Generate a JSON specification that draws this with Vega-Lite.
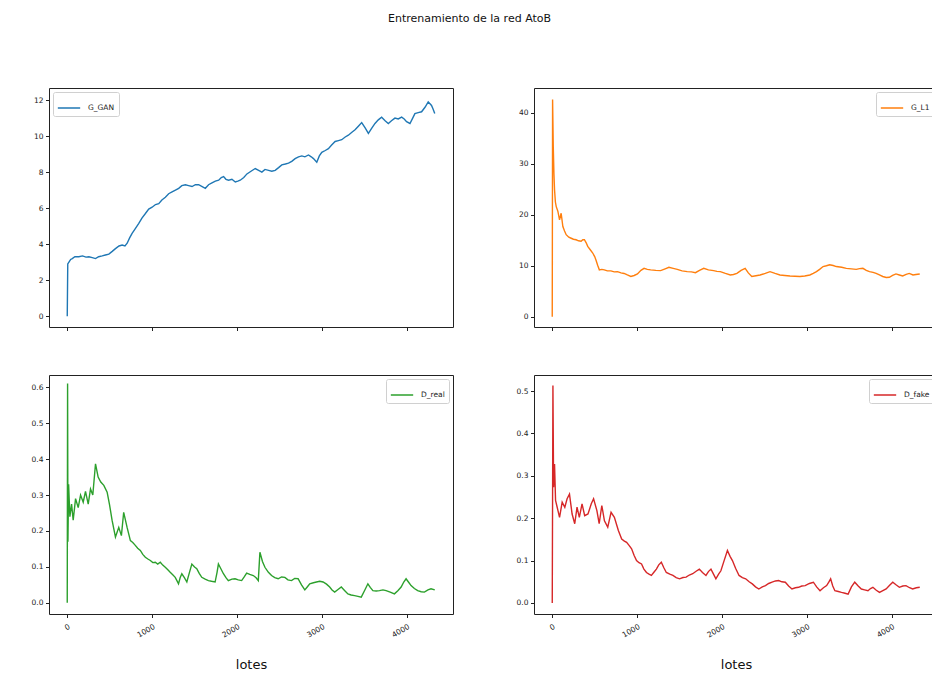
{
  "$schema": "https://vega.github.io/schema/vega-lite/v6.json",
  "padding": {"left": 30, "top": 12, "right": 0, "bottom": 0},
  "title": {"text": "Entrenamiento de la red AtoB", "fontSize": 11, "fontWeight": "normal", "color": "#111", "offset": 64, "dx": -15, "anchor": "middle"},
  "datasets": {
    "G_GAN": [
      {"lote":0,"valor":0},{"lote":6,"valor":2.9},{"lote":20,"valor":3.0},{"lote":40,"valor":3.15},{"lote":59,"valor":3.2},{"lote":90,"valor":3.3},{"lote":137,"valor":3.3},{"lote":180,"valor":3.35},{"lote":220,"valor":3.28},{"lote":255,"valor":3.3},{"lote":295,"valor":3.25},{"lote":333,"valor":3.2},{"lote":370,"valor":3.3},{"lote":412,"valor":3.35},{"lote":450,"valor":3.4},{"lote":490,"valor":3.45},{"lote":530,"valor":3.6},{"lote":568,"valor":3.75},{"lote":610,"valor":3.9},{"lote":647,"valor":3.95},{"lote":680,"valor":3.9},{"lote":706,"valor":4.05},{"lote":735,"valor":4.35},{"lote":764,"valor":4.6},{"lote":800,"valor":4.85},{"lote":843,"valor":5.15},{"lote":880,"valor":5.45},{"lote":921,"valor":5.7},{"lote":960,"valor":5.95},{"lote":1000,"valor":6.05},{"lote":1040,"valor":6.2},{"lote":1078,"valor":6.25},{"lote":1115,"valor":6.45},{"lote":1156,"valor":6.6},{"lote":1195,"valor":6.8},{"lote":1235,"valor":6.9},{"lote":1275,"valor":7.0},{"lote":1313,"valor":7.1},{"lote":1350,"valor":7.25},{"lote":1392,"valor":7.3},{"lote":1430,"valor":7.25},{"lote":1470,"valor":7.2},{"lote":1510,"valor":7.3},{"lote":1548,"valor":7.3},{"lote":1590,"valor":7.2},{"lote":1627,"valor":7.1},{"lote":1665,"valor":7.3},{"lote":1705,"valor":7.4},{"lote":1745,"valor":7.5},{"lote":1784,"valor":7.55},{"lote":1815,"valor":7.7},{"lote":1842,"valor":7.75},{"lote":1870,"valor":7.6},{"lote":1901,"valor":7.55},{"lote":1940,"valor":7.6},{"lote":1980,"valor":7.45},{"lote":2010,"valor":7.5},{"lote":2038,"valor":7.55},{"lote":2080,"valor":7.7},{"lote":2117,"valor":7.9},{"lote":2165,"valor":8.05},{"lote":2215,"valor":8.2},{"lote":2255,"valor":8.1},{"lote":2293,"valor":8.0},{"lote":2330,"valor":8.15},{"lote":2372,"valor":8.1},{"lote":2410,"valor":8.05},{"lote":2450,"valor":8.1},{"lote":2490,"valor":8.25},{"lote":2528,"valor":8.4},{"lote":2570,"valor":8.45},{"lote":2607,"valor":8.5},{"lote":2645,"valor":8.6},{"lote":2685,"valor":8.75},{"lote":2725,"valor":8.85},{"lote":2764,"valor":8.9},{"lote":2800,"valor":8.85},{"lote":2842,"valor":8.95},{"lote":2875,"valor":8.85},{"lote":2901,"valor":8.75},{"lote":2940,"valor":8.55},{"lote":2970,"valor":8.9},{"lote":2999,"valor":9.1},{"lote":3040,"valor":9.2},{"lote":3077,"valor":9.3},{"lote":3115,"valor":9.5},{"lote":3156,"valor":9.7},{"lote":3195,"valor":9.75},{"lote":3234,"valor":9.8},{"lote":3275,"valor":9.95},{"lote":3312,"valor":10.05},{"lote":3350,"valor":10.2},{"lote":3391,"valor":10.35},{"lote":3430,"valor":10.55},{"lote":3469,"valor":10.75},{"lote":3510,"valor":10.45},{"lote":3548,"valor":10.15},{"lote":3590,"valor":10.45},{"lote":3626,"valor":10.7},{"lote":3665,"valor":10.9},{"lote":3704,"valor":11.05},{"lote":3745,"valor":10.85},{"lote":3783,"valor":10.7},{"lote":3820,"valor":10.85},{"lote":3861,"valor":11.0},{"lote":3900,"valor":10.95},{"lote":3940,"valor":11.05},{"lote":3970,"valor":10.95},{"lote":3998,"valor":10.8},{"lote":4038,"valor":10.7},{"lote":4070,"valor":11.0},{"lote":4096,"valor":11.25},{"lote":4135,"valor":11.3},{"lote":4175,"valor":11.35},{"lote":4215,"valor":11.6},{"lote":4253,"valor":11.9},{"lote":4292,"valor":11.7},{"lote":4310,"valor":11.5},{"lote":4330,"valor":11.25}
    ],
    "G_L1": [
      {"lote":0,"valor":0},{"lote":4,"valor":42.6},{"lote":12,"valor":33.4},{"lote":20,"valor":28},{"lote":27,"valor":24.9},{"lote":37,"valor":22.5},{"lote":47,"valor":21.6},{"lote":66,"valor":20.7},{"lote":86,"valor":19.0},{"lote":105,"valor":20.3},{"lote":125,"valor":17.7},{"lote":145,"valor":16.8},{"lote":164,"valor":16.1},{"lote":195,"valor":15.6},{"lote":223,"valor":15.4},{"lote":250,"valor":15.2},{"lote":281,"valor":15.1},{"lote":310,"valor":14.9},{"lote":340,"valor":14.8},{"lote":360,"valor":15.1},{"lote":379,"valor":15.1},{"lote":400,"valor":14.5},{"lote":418,"valor":13.8},{"lote":450,"valor":13.1},{"lote":477,"valor":12.5},{"lote":500,"valor":11.8},{"lote":516,"valor":11.1},{"lote":535,"valor":10.1},{"lote":555,"valor":9.2},{"lote":585,"valor":9.3},{"lote":613,"valor":9.2},{"lote":650,"valor":9.0},{"lote":691,"valor":9.0},{"lote":730,"valor":8.8},{"lote":769,"valor":8.85},{"lote":810,"valor":8.6},{"lote":847,"valor":8.5},{"lote":885,"valor":8.2},{"lote":926,"valor":7.9},{"lote":965,"valor":8.1},{"lote":1004,"valor":8.4},{"lote":1045,"valor":9.1},{"lote":1082,"valor":9.5},{"lote":1120,"valor":9.3},{"lote":1160,"valor":9.2},{"lote":1220,"valor":9.1},{"lote":1277,"valor":9.05},{"lote":1330,"valor":9.4},{"lote":1375,"valor":9.7},{"lote":1425,"valor":9.5},{"lote":1473,"valor":9.3},{"lote":1530,"valor":9.0},{"lote":1590,"valor":8.85},{"lote":1640,"valor":8.8},{"lote":1687,"valor":8.65},{"lote":1735,"valor":9.1},{"lote":1785,"valor":9.5},{"lote":1840,"valor":9.2},{"lote":1902,"valor":9.05},{"lote":1940,"valor":8.9},{"lote":1980,"valor":8.85},{"lote":2040,"valor":8.5},{"lote":2098,"valor":8.2},{"lote":2135,"valor":8.3},{"lote":2176,"valor":8.5},{"lote":2225,"valor":9.1},{"lote":2273,"valor":9.5},{"lote":2310,"valor":8.6},{"lote":2351,"valor":7.9},{"lote":2400,"valor":8.05},{"lote":2449,"valor":8.2},{"lote":2510,"valor":8.5},{"lote":2566,"valor":8.85},{"lote":2625,"valor":8.5},{"lote":2683,"valor":8.2},{"lote":2740,"valor":8.1},{"lote":2801,"valor":8.0},{"lote":2860,"valor":7.95},{"lote":2918,"valor":7.9},{"lote":2975,"valor":8.0},{"lote":3035,"valor":8.2},{"lote":3075,"valor":8.5},{"lote":3113,"valor":8.85},{"lote":3150,"valor":9.3},{"lote":3191,"valor":9.85},{"lote":3230,"valor":10.0},{"lote":3269,"valor":10.2},{"lote":3310,"valor":10.05},{"lote":3347,"valor":9.85},{"lote":3410,"valor":9.7},{"lote":3465,"valor":9.5},{"lote":3525,"valor":9.4},{"lote":3582,"valor":9.3},{"lote":3620,"valor":9.45},{"lote":3660,"valor":9.5},{"lote":3700,"valor":9.1},{"lote":3738,"valor":8.85},{"lote":3780,"valor":8.7},{"lote":3816,"valor":8.5},{"lote":3855,"valor":8.2},{"lote":3894,"valor":7.9},{"lote":3935,"valor":7.7},{"lote":3972,"valor":7.75},{"lote":4010,"valor":8.1},{"lote":4050,"valor":8.4},{"lote":4090,"valor":8.2},{"lote":4129,"valor":8.0},{"lote":4170,"valor":8.3},{"lote":4207,"valor":8.5},{"lote":4250,"valor":8.2},{"lote":4285,"valor":8.3},{"lote":4330,"valor":8.4}
    ],
    "D_real": [
      {"lote":0,"valor":0},{"lote":4,"valor":0.61},{"lote":8,"valor":0.17},{"lote":16,"valor":0.33},{"lote":31,"valor":0.24},{"lote":51,"valor":0.275},{"lote":70,"valor":0.23},{"lote":98,"valor":0.29},{"lote":129,"valor":0.265},{"lote":157,"valor":0.3},{"lote":188,"valor":0.28},{"lote":215,"valor":0.31},{"lote":247,"valor":0.275},{"lote":274,"valor":0.317},{"lote":301,"valor":0.3},{"lote":333,"valor":0.387},{"lote":364,"valor":0.35},{"lote":395,"valor":0.336},{"lote":431,"valor":0.327},{"lote":470,"valor":0.308},{"lote":497,"valor":0.275},{"lote":528,"valor":0.23},{"lote":568,"valor":0.183},{"lote":607,"valor":0.21},{"lote":638,"valor":0.187},{"lote":665,"valor":0.252},{"lote":705,"valor":0.21},{"lote":744,"valor":0.173},{"lote":772,"valor":0.168},{"lote":802,"valor":0.16},{"lote":830,"valor":0.152},{"lote":861,"valor":0.146},{"lote":890,"valor":0.135},{"lote":920,"valor":0.127},{"lote":950,"valor":0.122},{"lote":979,"valor":0.118},{"lote":1008,"valor":0.112},{"lote":1037,"valor":0.113},{"lote":1066,"valor":0.108},{"lote":1096,"valor":0.113},{"lote":1125,"valor":0.105},{"lote":1155,"valor":0.099},{"lote":1185,"valor":0.092},{"lote":1213,"valor":0.085},{"lote":1243,"valor":0.078},{"lote":1272,"valor":0.071},{"lote":1292,"valor":0.062},{"lote":1311,"valor":0.053},{"lote":1330,"valor":0.07},{"lote":1350,"valor":0.081},{"lote":1380,"valor":0.07},{"lote":1409,"valor":0.058},{"lote":1440,"valor":0.085},{"lote":1468,"valor":0.108},{"lote":1500,"valor":0.1},{"lote":1526,"valor":0.095},{"lote":1555,"valor":0.082},{"lote":1585,"valor":0.071},{"lote":1625,"valor":0.066},{"lote":1663,"valor":0.062},{"lote":1700,"valor":0.06},{"lote":1742,"valor":0.058},{"lote":1765,"valor":0.085},{"lote":1781,"valor":0.108},{"lote":1810,"valor":0.095},{"lote":1840,"valor":0.081},{"lote":1870,"valor":0.07},{"lote":1898,"valor":0.062},{"lote":1940,"valor":0.066},{"lote":1977,"valor":0.067},{"lote":2015,"valor":0.064},{"lote":2055,"valor":0.062},{"lote":2085,"valor":0.072},{"lote":2114,"valor":0.083},{"lote":2150,"valor":0.079},{"lote":2192,"valor":0.076},{"lote":2225,"valor":0.07},{"lote":2251,"valor":0.062},{"lote":2270,"valor":0.141},{"lote":2300,"valor":0.115},{"lote":2329,"valor":0.099},{"lote":2370,"valor":0.085},{"lote":2407,"valor":0.076},{"lote":2445,"valor":0.07},{"lote":2485,"valor":0.067},{"lote":2525,"valor":0.072},{"lote":2564,"valor":0.071},{"lote":2600,"valor":0.064},{"lote":2642,"valor":0.062},{"lote":2680,"valor":0.068},{"lote":2720,"valor":0.067},{"lote":2760,"valor":0.05},{"lote":2799,"valor":0.036},{"lote":2830,"valor":0.045},{"lote":2857,"valor":0.053},{"lote":2900,"valor":0.056},{"lote":2936,"valor":0.058},{"lote":2975,"valor":0.06},{"lote":3014,"valor":0.058},{"lote":3055,"valor":0.052},{"lote":3092,"valor":0.044},{"lote":3120,"valor":0.036},{"lote":3151,"valor":0.03},{"lote":3190,"valor":0.037},{"lote":3229,"valor":0.044},{"lote":3270,"valor":0.034},{"lote":3307,"valor":0.025},{"lote":3345,"valor":0.022},{"lote":3386,"valor":0.02},{"lote":3425,"valor":0.018},{"lote":3464,"valor":0.016},{"lote":3505,"valor":0.035},{"lote":3542,"valor":0.053},{"lote":3570,"valor":0.043},{"lote":3601,"valor":0.034},{"lote":3640,"valor":0.033},{"lote":3679,"valor":0.034},{"lote":3720,"valor":0.036},{"lote":3757,"valor":0.034},{"lote":3805,"valor":0.03},{"lote":3855,"valor":0.025},{"lote":3895,"valor":0.034},{"lote":3934,"valor":0.044},{"lote":3965,"valor":0.058},{"lote":3992,"valor":0.067},{"lote":4020,"valor":0.058},{"lote":4051,"valor":0.048},{"lote":4090,"valor":0.04},{"lote":4129,"valor":0.034},{"lote":4170,"valor":0.031},{"lote":4208,"valor":0.03},{"lote":4250,"valor":0.036},{"lote":4286,"valor":0.039},{"lote":4330,"valor":0.036}
    ],
    "D_fake": [
      {"lote":0,"valor":0},{"lote":8,"valor":0.513},{"lote":16,"valor":0.273},{"lote":27,"valor":0.328},{"lote":39,"valor":0.242},{"lote":58,"valor":0.226},{"lote":86,"valor":0.202},{"lote":117,"valor":0.238},{"lote":148,"valor":0.226},{"lote":175,"valor":0.246},{"lote":203,"valor":0.257},{"lote":234,"valor":0.21},{"lote":265,"valor":0.187},{"lote":292,"valor":0.226},{"lote":319,"valor":0.202},{"lote":351,"valor":0.234},{"lote":382,"valor":0.206},{"lote":421,"valor":0.21},{"lote":460,"valor":0.234},{"lote":487,"valor":0.246},{"lote":526,"valor":0.218},{"lote":553,"valor":0.187},{"lote":584,"valor":0.23},{"lote":615,"valor":0.194},{"lote":654,"valor":0.179},{"lote":693,"valor":0.214},{"lote":732,"valor":0.202},{"lote":779,"valor":0.171},{"lote":818,"valor":0.151},{"lote":850,"valor":0.146},{"lote":876,"valor":0.143},{"lote":905,"valor":0.136},{"lote":935,"valor":0.128},{"lote":965,"valor":0.112},{"lote":993,"valor":0.1},{"lote":1022,"valor":0.095},{"lote":1052,"valor":0.092},{"lote":1080,"valor":0.08},{"lote":1110,"valor":0.072},{"lote":1140,"valor":0.068},{"lote":1168,"valor":0.065},{"lote":1200,"valor":0.073},{"lote":1227,"valor":0.08},{"lote":1255,"valor":0.09},{"lote":1285,"valor":0.096},{"lote":1315,"valor":0.083},{"lote":1344,"valor":0.072},{"lote":1385,"valor":0.068},{"lote":1422,"valor":0.065},{"lote":1460,"valor":0.06},{"lote":1500,"valor":0.057},{"lote":1540,"valor":0.06},{"lote":1577,"valor":0.061},{"lote":1615,"valor":0.066},{"lote":1655,"valor":0.069},{"lote":1695,"valor":0.075},{"lote":1733,"valor":0.08},{"lote":1770,"valor":0.072},{"lote":1811,"valor":0.065},{"lote":1840,"valor":0.074},{"lote":1870,"valor":0.08},{"lote":1900,"valor":0.068},{"lote":1928,"valor":0.057},{"lote":1960,"valor":0.068},{"lote":1987,"valor":0.076},{"lote":2025,"valor":0.1},{"lote":2064,"valor":0.124},{"lote":2095,"valor":0.11},{"lote":2123,"valor":0.1},{"lote":2160,"valor":0.082},{"lote":2201,"valor":0.065},{"lote":2240,"valor":0.06},{"lote":2279,"valor":0.057},{"lote":2320,"valor":0.05},{"lote":2357,"valor":0.045},{"lote":2395,"valor":0.038},{"lote":2434,"valor":0.033},{"lote":2475,"valor":0.038},{"lote":2512,"valor":0.041},{"lote":2550,"valor":0.046},{"lote":2590,"valor":0.049},{"lote":2630,"valor":0.052},{"lote":2668,"valor":0.053},{"lote":2705,"valor":0.05},{"lote":2746,"valor":0.049},{"lote":2785,"valor":0.04},{"lote":2824,"valor":0.033},{"lote":2865,"valor":0.036},{"lote":2902,"valor":0.037},{"lote":2940,"valor":0.04},{"lote":2980,"valor":0.041},{"lote":3030,"valor":0.046},{"lote":3077,"valor":0.049},{"lote":3115,"valor":0.038},{"lote":3155,"valor":0.029},{"lote":3195,"valor":0.036},{"lote":3233,"valor":0.041},{"lote":3260,"valor":0.05},{"lote":3280,"valor":0.057},{"lote":3305,"valor":0.04},{"lote":3330,"valor":0.029},{"lote":3370,"valor":0.027},{"lote":3408,"valor":0.025},{"lote":3450,"valor":0.023},{"lote":3486,"valor":0.021},{"lote":3525,"valor":0.038},{"lote":3564,"valor":0.049},{"lote":3605,"valor":0.04},{"lote":3642,"valor":0.033},{"lote":3680,"valor":0.031},{"lote":3720,"valor":0.029},{"lote":3750,"valor":0.034},{"lote":3778,"valor":0.037},{"lote":3818,"valor":0.03},{"lote":3856,"valor":0.025},{"lote":3895,"valor":0.029},{"lote":3934,"valor":0.033},{"lote":3975,"valor":0.042},{"lote":4012,"valor":0.049},{"lote":4050,"valor":0.043},{"lote":4090,"valor":0.037},{"lote":4130,"valor":0.04},{"lote":4168,"valor":0.041},{"lote":4210,"valor":0.036},{"lote":4246,"valor":0.033},{"lote":4290,"valor":0.036},{"lote":4330,"valor":0.037}
    ]
  },
  "columns": 2,
  "bounds": "flush",
  "spacing": {"column": 81, "row": 48},
  "resolve": {"scale": {"x": "independent", "y": "independent", "color": "independent"}, "legend": {"color": "independent"}},
  "concat": [
    {
      "data": {"name": "G_GAN"},
      "width": 404, "height": 239,
      "mark": {"type": "line", "strokeWidth": 1.4, "clip": true},
      "encoding": {
        "x": {"field": "lote", "type": "quantitative", "scale": {"domain": [-215, 4545], "nice": false, "zero": false}, "axis": {"values": [0, 1000, 2000, 3000, 4000], "labels": false, "title": null}},
        "y": {"field": "valor", "type": "quantitative", "scale": {"domain": [-0.6, 12.67], "nice": false, "zero": false}, "axis": {"values": [0, 2, 4, 6, 8, 10, 12], "title": null}},
        "color": {"datum": "G_GAN", "scale": {"range": ["#1f77b4"]}, "legend": {"orient": "top-left", "title": null}}
      }
    },
    {
      "data": {"name": "G_L1"},
      "width": 404, "height": 239,
      "mark": {"type": "line", "strokeWidth": 1.4, "clip": true},
      "encoding": {
        "x": {"field": "lote", "type": "quantitative", "scale": {"domain": [-215, 4545], "nice": false, "zero": false}, "axis": {"values": [0, 1000, 2000, 3000, 4000], "labels": false, "title": null}},
        "y": {"field": "valor", "type": "quantitative", "scale": {"domain": [-2.0, 44.85], "nice": false, "zero": false}, "axis": {"values": [0, 10, 20, 30, 40], "title": null}},
        "color": {"datum": "G_L1", "scale": {"range": ["#ff7f0e"]}, "legend": {"orient": "top-right", "title": null}}
      }
    },
    {
      "data": {"name": "D_real"},
      "width": 404, "height": 239,
      "mark": {"type": "line", "strokeWidth": 1.4, "clip": true},
      "encoding": {
        "x": {"field": "lote", "type": "quantitative", "scale": {"domain": [-215, 4545], "nice": false, "zero": false}, "axis": {"values": [0, 1000, 2000, 3000, 4000], "format": "d", "labelAngle": -30, "labelAlign": "right", "labelBaseline": "top", "labelPadding": 5, "title": "lotes", "titleFontSize": 13, "titleFontWeight": "normal", "titlePadding": 20}},
        "y": {"field": "valor", "type": "quantitative", "scale": {"domain": [-0.031, 0.634], "nice": false, "zero": false}, "axis": {"values": [0, 0.1, 0.2, 0.3, 0.4, 0.5, 0.6], "format": ".1f", "title": null}},
        "color": {"datum": "D_real", "scale": {"range": ["#2ca02c"]}, "legend": {"orient": "top-right", "title": null}}
      }
    },
    {
      "data": {"name": "D_fake"},
      "width": 404, "height": 239,
      "mark": {"type": "line", "strokeWidth": 1.4, "clip": true},
      "encoding": {
        "x": {"field": "lote", "type": "quantitative", "scale": {"domain": [-215, 4545], "nice": false, "zero": false}, "axis": {"values": [0, 1000, 2000, 3000, 4000], "format": "d", "labelAngle": -30, "labelAlign": "right", "labelBaseline": "top", "labelPadding": 5, "title": "lotes", "titleFontSize": 13, "titleFontWeight": "normal", "titlePadding": 20}},
        "y": {"field": "valor", "type": "quantitative", "scale": {"domain": [-0.026, 0.538], "nice": false, "zero": false}, "axis": {"values": [0, 0.1, 0.2, 0.3, 0.4, 0.5], "format": ".1f", "title": null}},
        "color": {"datum": "D_fake", "scale": {"range": ["#d62728"]}, "legend": {"orient": "top-right", "title": null}}
      }
    }
  ],
  "config": {
    "font": "DejaVu Sans",
    "background": "white",
    "view": {"stroke": "#222", "strokeWidth": 1},
    "axis": {"domain": false, "grid": false, "ticks": true, "tickSize": 3.5, "tickColor": "#222", "labelFontSize": 7.5, "labelColor": "#222", "labelPadding": 2.5, "titleColor": "#111"},
    "legend": {"symbolType": "stroke", "symbolStrokeWidth": 1.5, "symbolSize": 500, "labelFontSize": 7.5, "labelColor": "#222", "labelOffset": 7, "padding": 4, "strokeColor": "#d0d0d0", "fillColor": "white", "cornerRadius": 2, "offset": 4}
  }
}
